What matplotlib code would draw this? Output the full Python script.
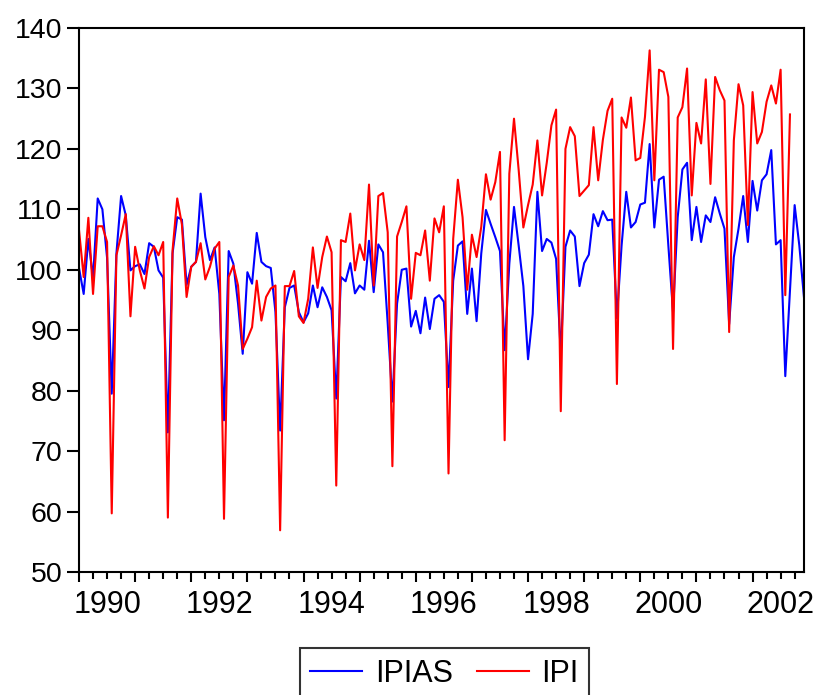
import numpy as np
import matplotlib.pyplot as plt

# Monthly series, 1990M1 onwards
START_YEAR = 1990

ipias = [
    100.3, 96.0, 105.1, 98.6, 111.8, 110.0, 102.0, 79.5, 102.7, 112.2, 109.0, 99.9,   # 1990
    100.6, 100.9, 99.3, 104.4, 103.8, 99.9, 98.7, 73.1, 102.7, 108.7, 108.3, 97.5,    # 1991
    100.5, 101.3, 112.6, 105.4, 101.6, 103.7, 96.0, 75.1, 103.1, 101.0, 94.4, 86.1,   # 1992
    99.6, 97.7, 106.1, 101.3, 100.6, 100.3, 93.0, 73.4, 93.8, 97.0, 97.4, 93.0,       # 1993
    91.3, 92.8, 97.4, 93.8, 97.1, 95.5, 93.3, 78.7, 98.8, 98.1, 101.1, 96.1,          # 1994
    97.4, 96.7, 104.8, 96.3, 104.2, 102.9, 91.1, 78.2, 94.4, 100.0, 100.2, 90.6,      # 1995
    93.2, 89.5, 95.4, 90.2, 95.2, 95.8, 94.7, 80.6, 98.2, 104.0, 104.7, 92.7,         # 1996
    100.2, 91.5, 102.7, 109.9, 107.6, 105.4, 103.1, 86.7, 101.0, 110.4, 104.0, 97.3,  # 1997
    85.2, 92.7, 112.9, 103.1, 105.1, 104.5, 101.8, 86.0, 103.8, 106.5, 105.5, 97.3,   # 1998
    101.1, 102.5, 109.2, 107.2, 109.7, 108.2, 108.3, 92.0, 104.0, 112.9, 107.0, 107.9, # 1999
    110.8, 111.1, 120.8, 107.0, 114.9, 115.4, 104.0, 93.0, 108.7, 116.6, 117.7, 104.9, # 2000
    110.4, 104.6, 109.0, 107.9, 112.0, 109.3, 106.8, 91.0, 102.1, 106.8, 112.2, 104.6, # 2001
    114.7, 109.8, 114.8, 115.8, 119.8, 104.2, 104.9, 82.4, 96.5, 110.7, 104.0, 95.4,  # 2002
]

ipi = [
    106.6, 98.8, 108.6, 96.0, 107.2, 107.2, 104.6, 59.7, 102.4, 105.7, 109.2, 92.3,   # 1990
    103.8, 99.9, 96.9, 102.1, 103.9, 102.4, 104.6, 59.0, 103.2, 111.8, 107.5, 95.5,   # 1991
    100.5, 101.3, 104.4, 98.4, 100.5, 103.5, 104.6, 58.8, 98.8, 100.7, 97.4, 86.9,    # 1992
    88.6, 90.5, 98.2, 91.6, 95.5, 96.9, 97.4, 56.9, 97.3, 97.3, 99.8, 92.3,           # 1993
    91.2, 95.2, 103.7, 97.0, 102.1, 105.5, 102.9, 64.3, 104.9, 104.6, 109.3, 99.9,    # 1994
    104.2, 101.6, 114.1, 97.4, 112.2, 112.7, 106.2, 67.5, 105.5, 107.9, 110.5, 95.2,  # 1995
    102.8, 102.4, 106.5, 98.2, 108.5, 106.2, 110.5, 66.3, 105.1, 114.9, 108.7, 96.7,  # 1996
    105.8, 102.1, 107.1, 115.8, 111.6, 114.5, 119.5, 71.8, 115.9, 125.0, 116.5, 107.0, # 1997
    110.7, 114.1, 121.4, 112.3, 117.7, 123.9, 126.5, 76.6, 120.0, 123.6, 122.1, 112.2, # 1998
    113.1, 114.0, 123.6, 114.8, 121.5, 126.3, 128.3, 81.1, 125.2, 123.5, 128.5, 118.1, # 1999
    118.5, 125.3, 136.3, 114.8, 133.1, 132.7, 128.6, 86.9, 125.2, 126.9, 133.3, 112.3, # 2000
    124.3, 120.9, 131.5, 114.2, 131.9, 129.7, 128.0, 89.7, 121.4, 130.7, 127.2, 107.4, # 2001
    129.4, 120.9, 122.8, 127.8, 130.5, 127.5, 133.1, 95.8, 125.7,                     # 2002
]

year_labels = ['1990', '1992', '1994', '1996', '1998', '2000', '2002']

plt.rcParams['font.family'] = ['Liberation Sans', 'DejaVu Sans']

fig = plt.figure(figsize=(8.17, 6.95), dpi=100)
ax = fig.add_axes([79 / 817, 1 - 572 / 695, (804 - 79) / 817, (572 - 28) / 695])

ax.plot(np.arange(len(ipias)), ipias, color='#0000ff', lw=1.5, label='IPIAS')
ax.plot(np.arange(len(ipi)), ipi, color='#ff0000', lw=1.5, label='IPI')

ax.set_xlim(0, len(ipias) - 1)
ax.set_ylim(50, 140)
ax.set_yticks(np.arange(50, 141, 10))

# yearly major ticks, quarterly minor ticks, labels centred in every other year
ax.set_xticks(np.arange(0, len(ipias), 12))
ax.set_xticks(np.arange(0, len(ipias), 3), minor=True)
ax.set_xticklabels([])
for k, lab in enumerate(year_labels):
    ax.text(6 + 24 * k, -0.034, lab, transform=ax.get_xaxis_transform(),
            ha='center', va='top', fontsize=22)

ax.tick_params(axis='y', direction='out', length=9, width=1.5, labelsize=20.5, pad=3)
ax.tick_params(axis='x', which='major', direction='out', length=7, width=1.5)
ax.tick_params(axis='x', which='minor', direction='out', length=5, width=1.5)
for sp in ax.spines.values():
    sp.set_linewidth(1.5)

leg = fig.legend(loc='upper center', bbox_to_anchor=(444.5 / 817, 1 - 648 / 695),
                 ncol=2, fontsize=22, frameon=True, fancybox=False,
                 edgecolor='black', handlelength=1.7, handletextpad=0.4,
                 columnspacing=0.8, borderpad=0.35, borderaxespad=0)
leg.get_frame().set_linewidth(1.5)

fig.savefig('out.png', dpi=100)
